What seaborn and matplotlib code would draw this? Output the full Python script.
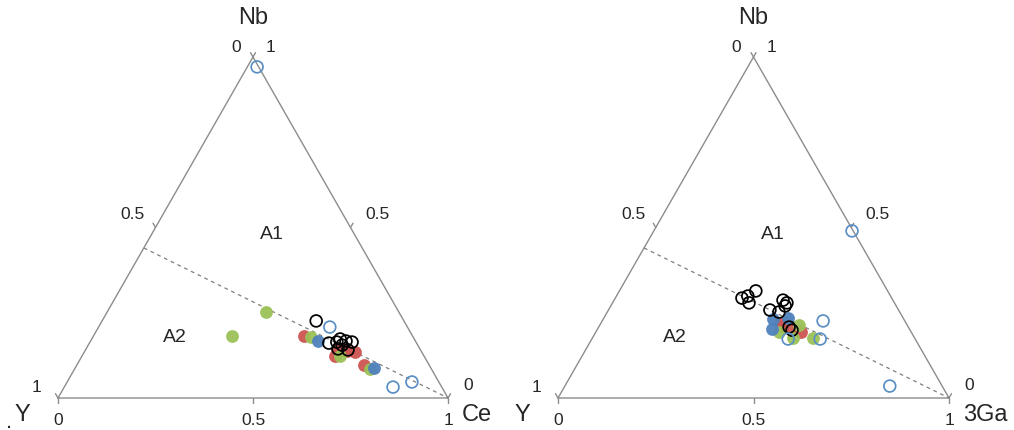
import numpy as np
import pandas as pd
import matplotlib
matplotlib.use("Agg")
import matplotlib.pyplot as plt
import seaborn as sns

sns.set_style("white")
plt.rcParams['font.family'] = ['Liberation Sans', 'DejaVu Sans']

# ---------------- data (ternary fractions) ----------------
# Left diagram: Nb - Y - Ce ; values are (Ce, Nb), Y = 1 - Ce - Nb
left_red_ce = [0.540, 0.645, 0.658, 0.694, 0.672, 0.649, 0.736]
left_red_nb = [0.182, 0.141, 0.141, 0.135, 0.138, 0.123, 0.097]
left_green_ce = [0.407, 0.355, 0.559, 0.661, 0.757]
left_green_nb = [0.252, 0.182, 0.179, 0.123, 0.085]
left_blue_ce = [0.583, 0.766]
left_blue_nb = [0.167, 0.088]
left_black_ce = [0.549, 0.614, 0.637, 0.655, 0.672, 0.633, 0.651, 0.646, 0.673]
left_black_nb = [0.226, 0.161, 0.173, 0.167, 0.164, 0.164, 0.155, 0.144, 0.141]
left_openblue_ce = [0.025, 0.593, 0.843, 0.884]
left_openblue_nb = [0.971, 0.208, 0.032, 0.047]

# Right diagram: Nb - Y - 3Ga ; values are (3Ga, Nb)
right_red_ga = [0.470, 0.491, 0.524, 0.458]
right_red_nb = [0.211, 0.205, 0.194, 0.220]
right_green_ga = [0.468, 0.509, 0.513, 0.564]
right_green_nb = [0.194, 0.214, 0.176, 0.176]
right_blue_ga = [0.434, 0.471, 0.446]
right_blue_nb = [0.232, 0.235, 0.202]
right_black_ga = [0.324, 0.336, 0.349, 0.349, 0.432, 0.446, 0.446, 0.413, 0.439, 0.487, 0.499]
right_black_nb = [0.293, 0.299, 0.314, 0.279, 0.287, 0.270, 0.279, 0.258, 0.252, 0.208, 0.199]
right_openblue_ga = [0.507, 0.831, 0.502, 0.584, 0.565]
right_openblue_nb = [0.490, 0.035, 0.173, 0.173, 0.226]

# A1 / A2 boundary: from Nb = 0.44 on the Nb-Y side to the Ce (3Ga) apex
boundary_nb_start = 0.44

tick_values = [0, 0.5, 1]
tick_labels = ["0", "0.5", "1"]

RED = "#cd5450"
GREEN = "#9bc257"
BLUE = "#4f81bd"
OPENBLUE = "#5b8fc4"
EDGE = "#8c8c8c"

fig = plt.figure(figsize=(10.14, 4.31), dpi=100)


def to_xy(c, nb):
    c = np.asarray(c, float)
    nb = np.asarray(nb, float)
    return c + nb / 2.0, nb


def draw(ax, sx, right_label, groups, xlim):
    sy = 341.0  # pixels per unit Nb
    ax.set_xlim(*xlim)
    ax.set_ylim(-32 / sy, (431 - 32) / sy)
    ax.set_axis_off()
    # triangle
    tri = pd.DataFrame({"x": [0, 1, 0.5, 0], "y": [0, 0, 1, 0]})
    ax.plot(tri["x"], tri["y"], color=EDGE, lw=1.0, zorder=1, solid_joinstyle="miter")
    # ticks
    L = 5.0
    for t in tick_values:
        # Ce / Ga axis (bottom), downward
        ax.plot([t, t], [0, -L / sy], color=EDGE, lw=1.0)
        # Y axis (left edge), up-left
        x0, y0 = (1 - t) / 2, 1 - t
        ax.plot([x0, x0 - 0.5 * L / sx], [y0, y0 + 0.866 * L / sy], color=EDGE, lw=1.0)
        # Nb axis (right edge), up-right
        x0, y0 = 1 - t / 2, t
        ax.plot([x0, x0 + 0.5 * L / sx], [y0, y0 + 0.866 * L / sy], color=EDGE, lw=1.0)
    # dashed boundary
    bx, by = to_xy([0, 1], [boundary_nb_start, 0])
    ax.plot(bx, by, color="#7f7f7f", lw=0.9, ls=(0, (3, 3)), zorder=2)

    fs_tick = 12.5
    # bottom tick labels
    for t, lab in zip(tick_values, tick_labels):
        ax.text(t, -0.062, lab, ha="center", va="center", fontsize=fs_tick)
    # left (Y) labels
    ax.text(-0.054, 0.035, "1", ha="center", va="center", fontsize=fs_tick)
    ax.text(0.192, 0.540, "0.5", ha="center", va="center", fontsize=fs_tick)
    ax.text(0.456, 1.032, "0", ha="center", va="center", fontsize=fs_tick)
    # right (Nb) labels
    ax.text(1.051, 0.041, "0", ha="center", va="center", fontsize=fs_tick)
    ax.text(0.818, 0.540, "0.5", ha="center", va="center", fontsize=fs_tick)
    ax.text(0.546, 1.032, "1", ha="center", va="center", fontsize=fs_tick)
    # vertex names
    ax.text(0.5, 1.117, "Nb", ha="center", va="center", fontsize=17)
    ax.text(-0.092 * 390 / sx, -0.047, "Y", ha="center", va="center", fontsize=17)
    ax.text(1.0 + 0.035 * 390 / sx, -0.047, right_label, ha="left", va="center", fontsize=17)
    # field labels
    ax.text(0.549, 0.481, "A1", ha="center", va="center", fontsize=14)
    ax.text(0.300, 0.179, "A2", ha="center", va="center", fontsize=14)

    for c, nb, kind, col in groups:
        x, y = to_xy(c, nb)
        if kind == "filled":
            sns.scatterplot(x=x, y=y, ax=ax, color=col, s=85, linewidth=0,
                            alpha=0.95, zorder=3, legend=False)
        else:
            sns.scatterplot(x=x, y=y, ax=ax, facecolor="none", edgecolor=col,
                            s=72, linewidth=1.25, zorder=4, legend=False)


axL = fig.add_axes([0, 0, 0.5, 1])
draw(axL, 390.0, "Ce",
     [(left_red_ce, left_red_nb, "filled", RED),
      (left_green_ce, left_green_nb, "filled", GREEN),
      (left_blue_ce, left_blue_nb, "filled", BLUE),
      (left_black_ce, left_black_nb, "open", "black"),
      (left_openblue_ce, left_openblue_nb, "open", OPENBLUE)],
     (-58 / 390, (507 - 58) / 390))
axL.text(-0.126, -0.068, ".", ha="center", va="center", fontsize=16)

axR = fig.add_axes([0.5, 0, 0.5, 1])
draw(axR, 391.0, "3Ga",
     [(right_red_ga, right_red_nb, "filled", RED),
      (right_green_ga, right_green_nb, "filled", GREEN),
      (right_blue_ga, right_blue_nb, "filled", BLUE),
      (right_black_ga, right_black_nb, "open", "black"),
      (right_openblue_ga, right_openblue_nb, "open", OPENBLUE)],
     (-51 / 391, (507 - 51) / 391))

fig.savefig("out.png", dpi=100)
